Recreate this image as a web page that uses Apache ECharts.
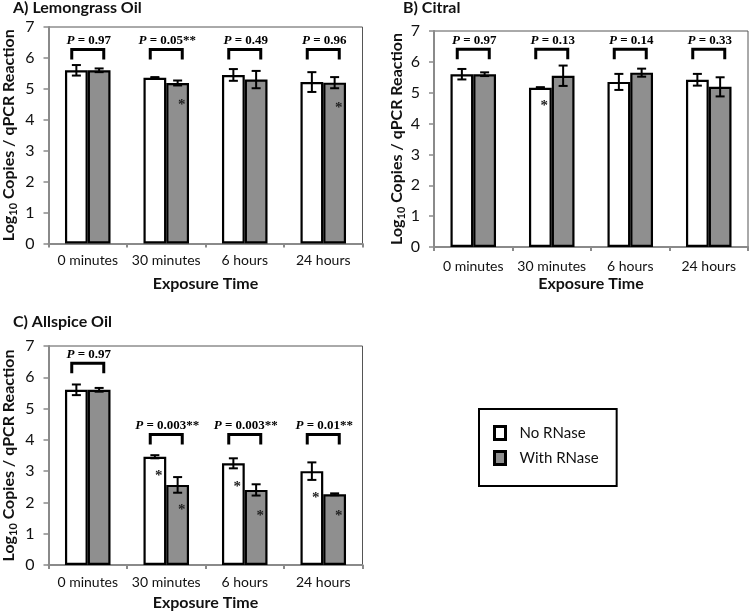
<!DOCTYPE html>
<html>
<head>
<meta charset="utf-8">
<script src="https://cdn.jsdelivr.net/npm/echarts@6/dist/echarts.min.js"></script>
<style>
html,body{margin:0;padding:0;background:#fff;}
#chart{width:750px;height:612px;}
</style>
</head>
<body>
<div id="chart"></div>
<script>
// ---------------- DATA ----------------
const categories = ['0 minutes', '30 minutes', '6 hours', '24 hours'];
const seriesNames = ['No RNase', 'With RNase'];

// A) Lemongrass Oil
const lemonNo = [5.60, 5.36, 5.45, 5.22];
const lemonNoErr = [0.17, 0.02, 0.19, 0.32];
const lemonWith = [5.60, 5.19, 5.30, 5.20];
const lemonWithErr = [0.06, 0.08, 0.28, 0.18];
const lemonP = ['0.97', '0.05**', '0.49', '0.96'];
const lemonBracketY = [6.27, 6.27, 6.27, 6.27];
const lemonStars = [[1, 1, 4.48], [3, 1, 4.37]]; // [category, side(0 no/1 with), y]

// B) Citral
const citralNo = [5.60, 5.16, 5.35, 5.42];
const citralNoErr = [0.17, 0.02, 0.26, 0.19];
const citralWith = [5.60, 5.55, 5.65, 5.19];
const citralWithErr = [0.06, 0.33, 0.13, 0.31];
const citralP = ['0.97', '0.13', '0.14', '0.33'];
const citralBracketY = [6.41, 6.41, 6.41, 6.41];
const citralStars = [[1, 0, 4.57]];

// C) Allspice Oil
const allspiceNo = [5.60, 3.46, 3.25, 3.00];
const allspiceNoErr = [0.17, 0.05, 0.16, 0.28];
const allspiceWith = [5.60, 2.56, 2.40, 2.26];
const allspiceWithErr = [0.06, 0.25, 0.18, 0.03];
const allspiceP = ['0.97', '0.003**', '0.003**', '0.01**'];
const allspiceBracketY = [6.45, 4.17, 4.17, 4.17];
const allspiceStars = [[1, 0, 2.84], [1, 1, 1.76], [2, 0, 2.50], [2, 1, 1.57], [3, 0, 2.13], [3, 1, 1.57]];

const panelTitles = ['A) Lemongrass Oil', 'B) Citral', 'C) Allspice Oil'];
const xAxisTitle = 'Exposure Time';

// ---------------- STYLE ----------------
const SANS = 'Lato, "Open Sans", sans-serif';
const SERIF = '"Liberation Serif", "DejaVu Serif", serif';
const BAR_FRAC = 0.29;
const GRAY = '#8f8f8f';
const AXIS_GRAY = '#8a8a8a';

const panels = [
  {no: lemonNo, noErr: lemonNoErr, wi: lemonWith, wiErr: lemonWithErr, p: lemonP, by: lemonBracketY, stars: lemonStars,
   grid: {left: 48.5, top: 27, width: 314, height: 216.5}, yGap: 30, xLabMargin: 10, xGap: 32},
  {no: citralNo, noErr: citralNoErr, wi: citralWith, wiErr: citralWithErr, p: citralP, by: citralBracketY, stars: citralStars,
   grid: {left: 434, top: 31, width: 314, height: 216}, yGap: 25, xLabMargin: 12, xGap: 29},
  {no: allspiceNo, noErr: allspiceNoErr, wi: allspiceWith, wiErr: allspiceWithErr, p: allspiceP, by: allspiceBracketY, stars: allspiceStars,
   grid: {left: 48.5, top: 346, width: 314, height: 219}, yGap: 30, xLabMargin: 10, xGap: 30}
];
const titlePos = [{left: 13, top: 0}, {left: 403, top: 0}, {left: 13, top: 314}];

function errRender(params, api) {
  const cat = api.value(0), m = api.value(1), e = api.value(2), side = api.value(3);
  const band = api.size([1, 0])[0];
  const off = (side === 0 ? -1 : 1) * band * BAR_FRAC / 2;
  const hi = api.coord([cat, m + e]);
  const lo = api.coord([cat, m - e]);
  const x = hi[0] + off;
  const cap = 4.5;
  const st = {stroke: '#000', lineWidth: 2};
  return {type: 'group', children: [
    {type: 'line', shape: {x1: x, y1: hi[1], x2: x, y2: lo[1]}, style: st},
    {type: 'line', shape: {x1: x - cap, y1: hi[1], x2: x + cap, y2: hi[1]}, style: st},
    {type: 'line', shape: {x1: x - cap, y1: lo[1], x2: x + cap, y2: lo[1]}, style: st}
  ]};
}

function makeBracketRender(labels) {
  return function (params, api) {
    const c = api.coord([api.value(0), api.value(1)]);
    const cx = c[0], cy = c[1];
    const half = 16, leg = 10;
    return {type: 'group', children: [
      {type: 'polyline', shape: {points: [[cx - half, cy + leg], [cx - half, cy], [cx + half, cy], [cx + half, cy + leg]]},
       style: {stroke: '#000', lineWidth: 3, fill: null}},
      {type: 'text', x: cx + 1, y: cy - 9, style: {
        text: '{i|P}{n| = ' + labels[params.dataIndex] + '}',
        align: 'center', verticalAlign: 'middle',
        rich: {
          i: {fontFamily: SERIF, fontSize: 13, fontWeight: 'bold', fontStyle: 'italic', fill: '#000'},
          n: {fontFamily: SERIF, fontSize: 13, fontWeight: 'bold', fill: '#000'}
        }
      }}
    ]};
  };
}

function starRender(params, api) {
  const cat = api.value(0), side = api.value(1), y = api.value(2);
  const band = api.size([1, 0])[0];
  const c = api.coord([cat, y]);
  const x = c[0] + (side === 0 ? -1 : 1) * band * BAR_FRAC / 2 + 4;
  return {type: 'text', x: x, y: c[1], style: {
    text: '*', align: 'center', verticalAlign: 'middle',
    fontFamily: SERIF, fontSize: 15, fontWeight: 'bold', fill: '#222'
  }};
}

const grids = [], xAxes = [], yAxes = [], series = [], titles = [];
panels.forEach(function (pn, i) {
  grids.push(Object.assign({show: true, borderColor: '#555', borderWidth: 1, backgroundColor: 'transparent'}, pn.grid));
  titles.push({text: panelTitles[i], left: titlePos[i].left, top: titlePos[i].top, padding: 0,
    textStyle: {fontFamily: SANS, fontSize: 16, fontWeight: 'bold', color: '#111'}});
  xAxes.push({type: 'category', gridIndex: i, data: categories,
    name: xAxisTitle, nameLocation: 'middle', nameGap: pn.xGap,
    nameTextStyle: {fontFamily: SANS, fontSize: 16, fontWeight: 'bold', color: '#111'},
    axisLine: {lineStyle: {color: AXIS_GRAY, width: 2}},
    axisTick: {show: true, length: 4, lineStyle: {color: AXIS_GRAY, width: 2}},
    axisLabel: {fontFamily: SANS, fontSize: 14, color: '#111', margin: pn.xLabMargin, interval: 0},
    splitLine: {show: false}});
  yAxes.push({type: 'value', gridIndex: i, min: 0, max: 7, interval: 1,
    name: '{a|Log}{s|10}{a| Copies / qPCR Reaction}', nameLocation: 'middle', nameGap: pn.yGap, nameRotate: 90,
    nameTextStyle: {rich: {
      a: {fontFamily: SANS, fontSize: 16, fontWeight: 'bold', color: '#111', lineHeight: 19},
      s: {fontFamily: SANS, fontSize: 11, fontWeight: 'bold', color: '#111', lineHeight: 11, verticalAlign: 'bottom'}
    }},
    axisLine: {show: true, lineStyle: {color: AXIS_GRAY, width: 2}},
    axisTick: {show: true, length: 5, lineStyle: {color: AXIS_GRAY, width: 1.5}},
    axisLabel: {fontFamily: SANS, fontSize: 16, color: '#111', margin: 14},
    splitLine: {show: false}});
  series.push({name: seriesNames[0], type: 'bar', xAxisIndex: i, yAxisIndex: i, data: pn.no,
    barWidth: (BAR_FRAC * 100) + '%', barGap: '0%',
    itemStyle: {color: '#ffffff', borderColor: '#000', borderWidth: 2.2}, silent: true});
  series.push({name: seriesNames[1], type: 'bar', xAxisIndex: i, yAxisIndex: i, data: pn.wi,
    barWidth: (BAR_FRAC * 100) + '%', barGap: '0%',
    itemStyle: {color: GRAY, borderColor: '#000', borderWidth: 2.2}, silent: true});
  const errData = [];
  pn.no.forEach(function (v, k) { errData.push([k, v, pn.noErr[k], 0]); });
  pn.wi.forEach(function (v, k) { errData.push([k, v, pn.wiErr[k], 1]); });
  series.push({type: 'custom', xAxisIndex: i, yAxisIndex: i, data: errData, renderItem: errRender, z: 5, silent: true,
    encode: {x: 0, y: 1}});
  series.push({type: 'custom', xAxisIndex: i, yAxisIndex: i,
    data: pn.by.map(function (y, k) { return [k, y]; }),
    renderItem: makeBracketRender(pn.p), z: 6, silent: true, encode: {x: 0, y: 1}});
  series.push({type: 'custom', xAxisIndex: i, yAxisIndex: i,
    data: pn.stars.map(function (s) { return [s[0], s[1], s[2]]; }),
    renderItem: starRender, z: 6, silent: true, encode: {x: 0, y: 2}});
});

const chart = echarts.init(document.getElementById('chart'), null, {renderer: 'canvas'});
chart.setOption({
  animation: false,
  backgroundColor: '#fff',
  title: titles,
  grid: grids,
  xAxis: xAxes,
  yAxis: yAxes,
  legend: {
    orient: 'vertical', left: 479, top: 409,
    data: seriesNames, icon: 'rect', itemWidth: 11, itemHeight: 13, itemGap: 9,
    padding: [16, 18, 20, 14], borderColor: '#000', borderWidth: 2,
    selectedMode: false,
    textStyle: {fontFamily: SANS, fontSize: 15, color: '#111', padding: [0, 0, 0, 9]},
    itemStyle: {borderColor: '#000', borderWidth: 3}
  },
  series: series
});
</script>
</body>
</html>
